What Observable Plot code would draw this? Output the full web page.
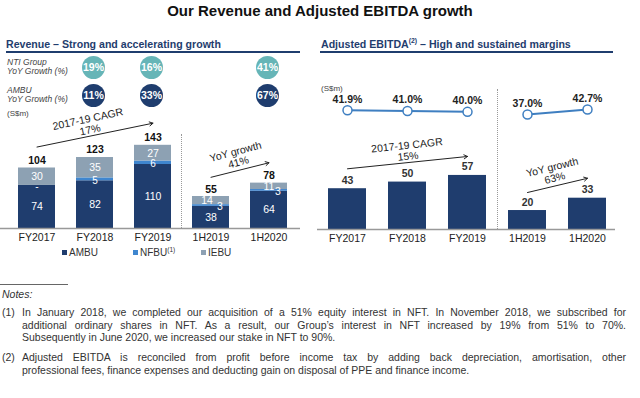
<!DOCTYPE html>
<html><head><meta charset="utf-8">
<script src="https://cdn.jsdelivr.net/npm/d3@7"></script>
<script src="https://cdn.jsdelivr.net/npm/@observablehq/plot@0.6"></script>
<style>
body{margin:0;background:#fff;}
#root{position:relative;width:640px;height:398px;overflow:hidden;font-family:"Liberation Sans",Arial,sans-serif;color:#222;}
.abs{position:absolute;white-space:nowrap;}
.hdr{font-weight:bold;font-size:10.6px;color:#1f3d6e;line-height:14px;}
.uline{height:2px;background:#1f3d6e;}
.rowlab{font-style:italic;font-size:8.5px;color:#444;line-height:9px;}
.unit{font-size:8px;color:#444;line-height:10px;}
.sep{border-left:1px dotted #999;width:0;}
.leg{font-size:10px;color:#333;line-height:12px;}
.sq{display:inline-block;width:5px;height:5px;margin-right:2px;vertical-align:1px;}
.note{font-size:10.5px;color:#333;line-height:12.5px;}
.just{text-align:justify;text-align-last:justify;}
sup{font-size:65%;line-height:0;}
</style></head><body><div id="root"></div>
<script>
// ---- data ----
const periods = ["FY2017", "FY2018", "FY2019", "1H2019", "1H2020"];
const segments = ["AMBU", "NFBU", "IEBU"];
const ambu = [74, 82, 110, 38, 64];
const nfbu = [0, 5, 6, 3, 3];
const iebu = [30, 35, 27, 14, 11];
const nfbuLabels = ["-", "5", "6", "3", "3"];
const revenueTotals = [104, 123, 143, 55, 78];
const ntiGrowth = [null, 19, 16, null, 41];
const ambuGrowth = [null, 11, 33, null, 67];
const ebitda = [43, 50, 57, 20, 33];
const ebitdaMargin = [41.9, 41.0, 40.0, 37.0, 42.7];
const marginGroups = ["FY", "FY", "FY", "1H", "1H"];
const revenueGrowthLabels = ["2017-19 CAGR\n17%", "YoY growth\n41%"];
const ebitdaGrowthLabels = ["2017-19 CAGR\n15%", "YoY growth\n63%"];

// ---- styles ----
const FONT = '"Liberation Sans", Arial, sans-serif';
const NAVY = "#1f3d6e", BLUE = "#3f86cf", GREY = "#8da1b3", TEAL = "#66b5b7", LINE = "#3f7fc1";

const root = document.getElementById("root");
function place(el, left, top) { el.style.position = "absolute"; el.style.left = left + "px"; el.style.top = top + "px"; root.appendChild(el); }
function html(str, left, top, cls, extra) { const d = document.createElement("div"); d.className = "abs " + (cls || ""); d.innerHTML = str; if (extra) Object.assign(d.style, extra); place(d, left, top); return d; }
function xBand(range) { return {type: "band", domain: periods, range, paddingInner: 0.37, paddingOuter: 0.29}; }

// ---- header texts ----
html("Our Revenue and Adjusted EBITDA growth", 0, 2, "", {width: "640px", textAlign: "center", fontWeight: "bold", fontSize: "15px", lineHeight: "18px", color: "#111"});
html("Revenue – Strong and accelerating growth", 6, 37, "hdr");
html("Adjusted EBITDA<sup>(2)</sup> – High and sustained margins", 321, 37, "hdr");
html("", 6, 51, "uline", {width: "294px"});
html("", 320, 51, "uline", {width: "293px"});
html("NTI Group", 7, 57.5, "rowlab");
html("YoY Growth (%)", 7, 66.5, "rowlab");
html("AMBU", 7, 85.5, "rowlab");
html("YoY Growth (%)", 7, 94.5, "rowlab");
html("(S$m)", 7, 109, "unit");
html("(S$m)", 321, 84, "unit");
html("", 181, 134, "sep", {height: "94px"});
html("", 497, 89, "sep", {height: "140px"});

// ---- growth circles ----
const growthRows = [];
periods.forEach((p, i) => {
  if (ntiGrowth[i] != null) growthRows.push({period: p, row: "NTI", value: ntiGrowth[i]});
  if (ambuGrowth[i] != null) growthRows.push({period: p, row: "AMBU", value: ambuGrowth[i]});
});
const circles = Plot.plot({
  width: 305, height: 60, margin: 0,
  style: {fontFamily: FONT, background: "transparent", overflow: "visible"},
  x: {...xBand([0, 305]), axis: null},
  y: {type: "point", domain: ["NTI", "AMBU"], range: [14.5, 43], padding: 0, axis: null},
  color: {domain: ["NTI", "AMBU"], range: [TEAL, NAVY]},
  marks: [
    Plot.dot(growthRows, {x: "period", y: "row", r: 11.5, fill: "row", dx: -1.5}),
    Plot.text(growthRows, {x: "period", y: "row", text: d => d.value + "%", fill: "white", fontWeight: "bold", fontSize: 10.5, dx: -1.5})
  ]
});
place(circles, 0, 52);

// ---- revenue stacked bars ----
const revRows = periods.flatMap((p, i) => [
  {period: p, segment: "AMBU", value: ambu[i], label: String(ambu[i]), shift: "c"},
  {period: p, segment: "NFBU", value: nfbu[i], label: nfbuLabels[i], shift: i >= 3 ? "r" : "n"},
  {period: p, segment: "IEBU", value: iebu[i], label: String(iebu[i]), shift: i === 3 ? "l" : "c"}
]);
const revTotals = periods.map((p, i) => ({period: p, value: revenueTotals[i]}));
const stackText = (shift, extra) => Plot.text(revRows, Plot.stackY({
  x: "period", y: "value", z: "segment", order: segments,
  text: d => d.shift === shift ? d.label : "", fill: "white", fontSize: 10.5, ...extra
}));
const revPlot = Plot.plot({
  width: 300, height: 148, marginLeft: 0, marginRight: 0, marginTop: 0, marginBottom: 20,
  style: {fontFamily: FONT, fontSize: "10.5px", color: "#222", background: "transparent", overflow: "visible"},
  x: {...xBand([0, 305]), tickSize: 0, tickPadding: 5, label: null},
  y: {domain: [0, 220], axis: null},
  color: {domain: segments, range: [NAVY, BLUE, GREY]},
  marks: [
    Plot.barY(revRows, {x: "period", y: "value", fill: "segment", order: segments}),
    Plot.ruleY([0], {stroke: "#999", strokeWidth: 1.5}),
    stackText("c", {}),
    stackText("n", {dy: 1.5, fontSize: 10}),
    stackText("r", {dx: 9, dy: 1}),
    stackText("l", {dx: -4}),
    Plot.text(revTotals, {x: "period", y: "value", text: d => String(d.value), lineAnchor: "bottom", dy: -4, fontWeight: "bold", fontSize: 10.5, fill: "#111"}),
    Plot.arrow([0], {x1: () => periods[0], x2: () => periods[2], y1: () => 140, y2: () => 181, stroke: "#222", strokeWidth: 1, headLength: 6}),
    Plot.text([revenueGrowthLabels[0]], {x: () => periods[1], y: () => 179, text: d => d, rotate: -12, dx: -6, fontSize: 10.5, fill: "#222", lineHeight: 1.05}),
    Plot.arrow([0], {x1: () => periods[3], x2: () => periods[4], y1: () => 88, y2: () => 113, stroke: "#222", strokeWidth: 1, headLength: 6}),
    Plot.text([revenueGrowthLabels[1]], {x: () => periods[4], y: () => 123, text: d => d, rotate: -15, dx: -32, fontSize: 10.5, fill: "#222", lineHeight: 1.05})
  ]
});
place(revPlot, 0, 100);

// ---- legend ----
html('<span class="sq" style="background:' + NAVY + '"></span>' + segments[0], 62, 247, "leg");
html('<span class="sq" style="background:' + BLUE + '"></span>' + segments[1] + '<sup>(1)</sup>', 133, 247, "leg");
html('<span class="sq" style="background:' + GREY + '"></span>' + segments[2], 201, 247, "leg");

// ---- EBITDA margin line ----
const marginRows = periods.map((p, i) => ({period: p, value: ebitdaMargin[i], group: marginGroups[i]}));
const marginPlot = Plot.plot({
  width: 305, height: 50, marginLeft: 7, marginRight: 0, marginTop: 0, marginBottom: 0,
  style: {fontFamily: FONT, background: "transparent", overflow: "visible"},
  x: {...xBand([0, 313]), axis: null},
  y: {domain: [37, 42.7], range: [34, 29], axis: null},
  marks: [
    Plot.line(marginRows, {x: "period", y: "value", z: "group", stroke: LINE, strokeWidth: 2}),
    Plot.dot(marginRows, {x: "period", y: "value", r: 4.5, fill: "white", stroke: LINE, strokeWidth: 1.5}),
    Plot.text(marginRows, {x: "period", y: "value", text: d => d.value.toFixed(1) + "%", dy: -11, fontWeight: "bold", fontSize: 10.5, fill: "#222"})
  ]
});
place(marginPlot, 310, 80);

// ---- EBITDA bars ----
const ebRows = periods.map((p, i) => ({period: p, value: ebitda[i]}));
const ebPlot = Plot.plot({
  width: 305, height: 149, marginLeft: 7, marginRight: 0, marginTop: 0, marginBottom: 20,
  style: {fontFamily: FONT, fontSize: "10.5px", color: "#222", background: "transparent", overflow: "visible"},
  x: {...xBand([0, 313]), tickSize: 0, tickPadding: 5, label: null},
  y: {domain: [0, 136], axis: null},
  marks: [
    Plot.barY(ebRows, {x: "period", y: "value", fill: NAVY}),
    Plot.ruleY([0], {stroke: "#999", strokeWidth: 1.5}),
    Plot.text(ebRows, {x: "period", y: "value", text: d => String(d.value), lineAnchor: "bottom", dy: -5, fontWeight: "bold", fontSize: 10.5, fill: "#333"}),
    Plot.arrow([0], {x1: () => periods[0], x2: () => periods[2], y1: () => 64, y2: () => 77, stroke: "#222", strokeWidth: 1, headLength: 6}),
    Plot.text([ebitdaGrowthLabels[0]], {x: () => periods[1], y: () => 83, text: d => d, rotate: -6, fontSize: 10.5, fill: "#222", lineHeight: 1.05}),
    Plot.arrow([0], {x1: () => periods[3], x2: () => periods[4], y1: () => 39, y2: () => 54, stroke: "#222", strokeWidth: 1, headLength: 6}),
    Plot.text([ebitdaGrowthLabels[1]], {x: () => periods[4], y: () => 60, text: d => d, rotate: -14, dx: -34, fontSize: 10.5, fill: "#222", lineHeight: 1.05})
  ]
});
place(ebPlot, 310, 100);

// ---- notes ----
html("", 0, 284, "", {width: "68px", height: "0", borderTop: "1px solid #666"});
html("Notes:", 2, 287, "note", {fontStyle: "italic", lineHeight: "14px"});
html("(1)", 2, 306, "note");
html("In January 2018, we completed our acquisition of a 51% equity interest in NFT. In November 2018, we subscribed for", 22, 306, "note just", {width: "604px", whiteSpace: "normal"});
html("additional ordinary shares in NFT. As a result, our Group’s interest in NFT increased by 19% from 51% to 70%.", 22, 318.5, "note just", {width: "604px", whiteSpace: "normal"});
html("Subsequently in June 2020, we increased our stake in NFT to 90%.", 22, 331, "note");
html("(2)", 2, 351, "note");
html("Adjusted EBITDA is reconciled from profit before income tax by adding back depreciation, amortisation, other", 22, 351, "note just", {width: "604px", whiteSpace: "normal"});
html("professional fees, finance expenses and deducting gain on disposal of PPE and finance income.", 22, 363.5, "note");
</script>
</body></html>
